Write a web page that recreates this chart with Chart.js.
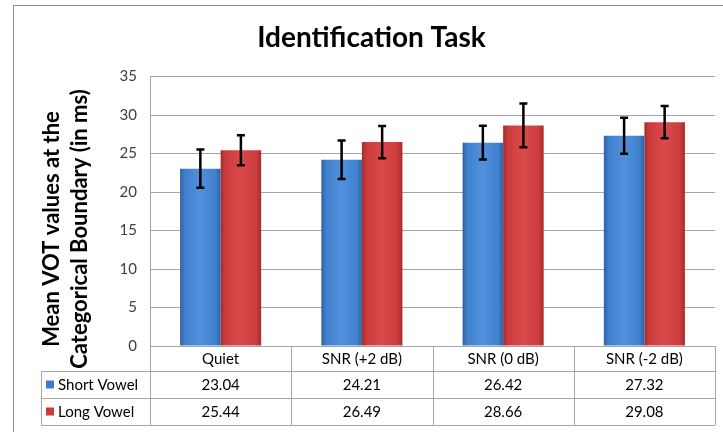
<!DOCTYPE html>
<html>
<head>
<meta charset="utf-8">
<script src="https://cdn.jsdelivr.net/npm/chart.js@4/dist/chart.umd.min.js"></script>
<style>
  html, body { margin: 0; padding: 0; background: #fff; }
  #wrap { width: 723px; height: 432px; }
</style>
</head>
<body>
<div id="wrap"><canvas id="chart" width="723" height="432"></canvas></div>
<script>
const categories = ['Quiet', 'SNR (+2 dB)', 'SNR (0 dB)', 'SNR (-2 dB)'];
const shortVowel = [23.04, 24.21, 26.42, 27.32];
const longVowel = [25.44, 26.49, 28.66, 29.08];
// error bar half-lengths
const shortErr = [2.48, 2.5, 2.2, 2.35];
const longErr = [1.95, 2.1, 2.85, 2.1];
const yTitle = ['Mean VOT values at the', 'Categorical Boundary (in ms)'];

const FONT = 'Lato, "Open Sans", sans-serif';
const GRID = '#a6a6a6';

// horizontal shading for the bevelled bars
function barFill(stops) {
    return ctx => {
        const chart = ctx.chart;
        const x = chart.scales.x;
        if (!chart.chartArea || !x || ctx.dataIndex === undefined) return stops[1];
        const half = x.width / categories.length * 0.574 / 2;
        const c = x.getPixelForValue(ctx.dataIndex);
        const l = ctx.datasetIndex === 0 ? c - half : c;
        const g = chart.ctx.createLinearGradient(l, 0, l + half, 0);
        g.addColorStop(0, stops[0]);
        g.addColorStop(0.12, stops[1]);
        g.addColorStop(0.5, stops[2]);
        g.addColorStop(0.88, stops[1]);
        g.addColorStop(1, stops[0]);
        return g;
    };
}

const errorBars = {
    id: 'errorBars',
    afterDatasetsDraw(chart) {
        const y = chart.scales.y;
        const c = chart.ctx;
        const errs = [shortErr, longErr];
        c.save();
        c.strokeStyle = '#000';
        c.lineWidth = 2.5;
        chart.data.datasets.forEach((ds, di) => {
            chart.getDatasetMeta(di).data.forEach((bar, i) => {
                const top = y.getPixelForValue(ds.data[i] + errs[di][i]);
                const bot = y.getPixelForValue(ds.data[i] - errs[di][i]);
                c.beginPath();
                c.moveTo(bar.x, top); c.lineTo(bar.x, bot);
                c.moveTo(bar.x - 4, top); c.lineTo(bar.x + 4, top);
                c.moveTo(bar.x - 4, bot); c.lineTo(bar.x + 4, bot);
                c.stroke();
            });
        });
        c.restore();
    }
};

const dataTable = {
    id: 'dataTable',
    beforeDraw(chart) {
        const c = chart.ctx;
        c.save();
        c.strokeStyle = '#8c8c8c';
        c.lineWidth = 1;
        c.beginPath();
        c.moveTo(13.5, 432); c.lineTo(13.5, 5.5); c.lineTo(723, 5.5);
        c.stroke();
        c.restore();
    },
    afterDraw(chart) {
        const c = chart.ctx;
        const x = chart.scales.x;
        const area = chart.chartArea;
        const colW = x.width / categories.length;
        const rows = [area.bottom, area.bottom + 25, area.bottom + 52, area.bottom + 79];
        const legendLeft = 41;
        c.save();
        c.strokeStyle = GRID;
        c.lineWidth = 1;
        c.beginPath();
        c.moveTo(area.left, rows[0] + 0.5); c.lineTo(area.right, rows[0] + 0.5);
        for (let r = 1; r < rows.length; r++) {
            c.moveTo(legendLeft, rows[r] + 0.5); c.lineTo(area.right, rows[r] + 0.5);
        }
        c.moveTo(legendLeft + 0.5, rows[1]); c.lineTo(legendLeft + 0.5, rows[3]);
        for (let i = 0; i <= categories.length; i++) {
            const px = Math.round(area.left + i * colW) + 0.5;
            c.moveTo(px, rows[0]); c.lineTo(px, rows[3]);
        }
        c.stroke();

        c.font = '15px ' + FONT;
        c.fillStyle = '#000';
        c.textAlign = 'center';
        c.textBaseline = 'middle';
        const series = [shortVowel, longVowel];
        categories.forEach((cat, i) => {
            const cx = x.getPixelForValue(i);
            c.fillText(cat, cx, (rows[0] + rows[1]) / 2 + 1);
            series.forEach((s, si) => {
                c.fillText(s[i].toFixed(2), cx, (rows[si + 1] + rows[si + 2]) / 2 + 1);
            });
        });
        c.textAlign = 'left';
        chart.data.datasets.forEach((ds, si) => {
            const cy = (rows[si + 1] + rows[si + 2]) / 2;
            c.fillStyle = ds.keyColor;
            c.fillRect(legendLeft + 5, cy - 4, 8, 8);
            c.fillStyle = '#000';
            c.fillText(ds.label, legendLeft + 17, cy + 1);
        });

        // vertical axis title
        c.font = 'bold 22px ' + FONT;
        c.textAlign = 'center';
        c.translate(0, 229);
        c.rotate(-Math.PI / 2);
        c.fillText(yTitle[0], 0, 52);
        c.fillText(yTitle[1], 0, 80);
        c.restore();
    }
};

new Chart(document.getElementById('chart'), {
    type: 'bar',
    data: {
        labels: categories,
        datasets: [
            {
                label: 'Short Vowel',
                data: shortVowel,
                keyColor: '#3f7bcc',
                backgroundColor: barFill(['#2e60a4', '#4180cc', '#5090dc']),
                borderWidth: 0
            },
            {
                label: 'Long Vowel',
                data: longVowel,
                keyColor: '#c93a3a',
                backgroundColor: barFill(['#a52c2c', '#cc3c3c', '#da4a4a']),
                borderWidth: 0
            }
        ]
    },
    options: {
        responsive: false,
        animation: false,
        layout: { padding: { left: 28, right: 8, top: 0, bottom: 0 } },
        datasets: { bar: { categoryPercentage: 0.574, barPercentage: 1 } },
        plugins: {
            legend: { display: false },
            tooltip: { enabled: false },
            title: {
                display: true,
                text: 'Identification Task',
                color: '#000',
                font: { family: FONT, size: 28, weight: 'bold' },
                padding: { top: 21, bottom: 22 }
            }
        },
        scales: {
            x: {
                ticks: { display: false },
                grid: { display: false },
                border: { display: false },
                afterFit: s => { s.height = 86; }
            },
            y: {
                min: 0,
                max: 35,
                ticks: {
                    stepSize: 5,
                    color: '#404040',
                    padding: 13,
                    font: { family: FONT, size: 15 }
                },
                grid: { color: GRID, drawTicks: false },
                border: { color: GRID },
                afterFit: s => { s.width = 122; }
            }
        }
    },
    plugins: [errorBars, dataTable]
});
</script>
</body>
</html>
